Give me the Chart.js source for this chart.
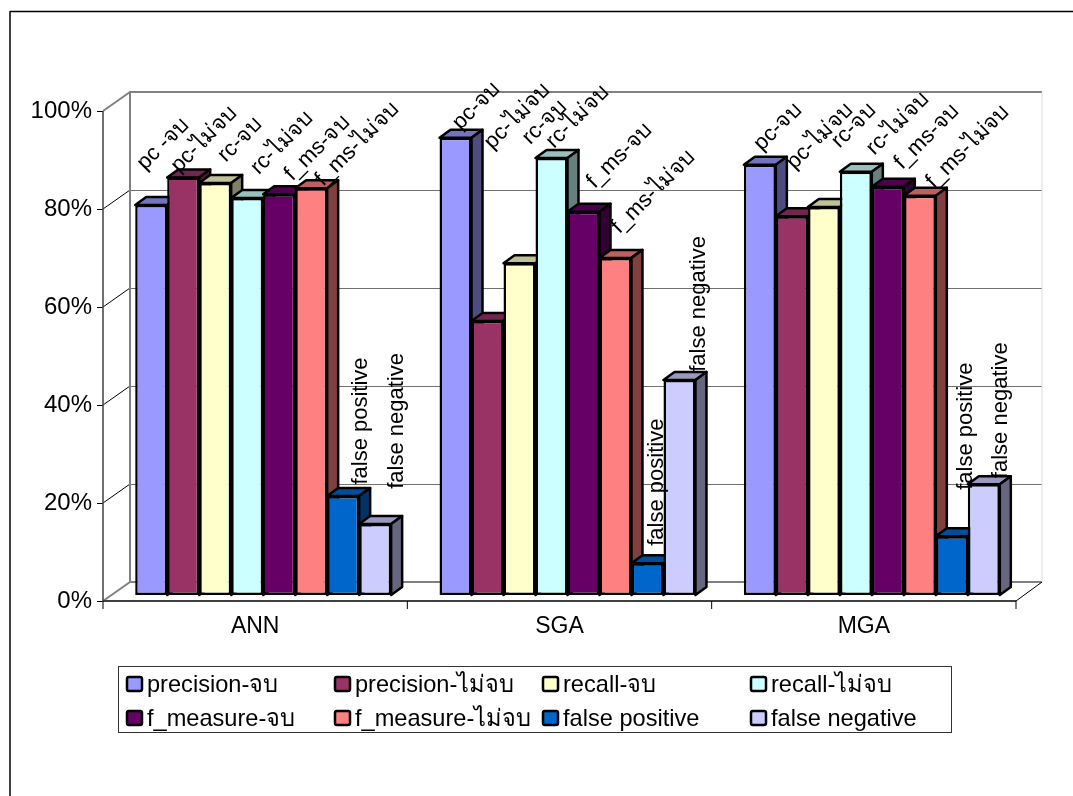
<!DOCTYPE html>
<html>
<head>
<meta charset="utf-8">
<title>ANN SGA MGA</title>
<script src="https://cdn.jsdelivr.net/npm/chart.js@4"></script>
<style>
    html, body { margin: 0; padding: 0; background: #fff; }
    canvas { display: block; }
</style>
</head>
<body>
<canvas id="chart" width="1073" height="796"></canvas>
<script>
const categories = ['ANN', 'SGA', 'MGA'];
const seriesNames = ['precision-จบ', 'precision-ไม่จบ', 'recall-จบ', 'recall-ไม่จบ', 'f_measure-จบ', 'f_measure-ไม่จบ', 'false positive', 'false negative'];

const precisionDone = [79.6, 93.3, 87.8];
const precisionNotDone = [85.2, 55.9, 77.3];
const recallDone = [84.1, 67.7, 79.2];
const recallNotDone = [81, 89.2, 86.4];
const fMeasureDone = [81.8, 78.2, 83.3];
const fMeasureNotDone = [83, 68.8, 81.5];
const falsePositive = [20.2, 6.5, 12];
const falseNegative = [14.5, 43.9, 22.6];

const seriesValues = [precisionDone, precisionNotDone, recallDone, recallNotDone, fMeasureDone, fMeasureNotDone, falsePositive, falseNegative];

// bar labels, one row per category
const annLabels = ['pc -จบ', 'pc-ไม่จบ', 'rc-จบ', 'rc-ไม่จบ', 'f_ms-จบ', 'f_ms-ไม่จบ', 'false positive', 'false negative'];
const sgaLabels = ['pc-จบ', 'pc-ไม่จบ', 'rc-จบ', 'rc-ไม่จบ', 'f_ms-จบ', 'f_ms-ไม่จบ', 'false positive', 'false negative'];
const mgaLabels = ['pc-จบ', 'pc-ไม่จบ', 'rc-จบ', 'rc-ไม่จบ', 'f_ms-จบ', 'f_ms-ไม่จบ', 'false positive', 'false negative'];
const barLabels = [annLabels, sgaLabels, mgaLabels];

// the labels were dragged by hand in the original, so each one has its own nudge from the bar top
const labelDx = [
    [12, 21, 25, 35, 38, 46, 18, 22],
    [21, 30, 25, 26, 36, 38, 9, 19],
    [18, 28, 30, 42, 39, 48, 14, 17],
];
const labelDy = [
    [-61, -38, -43, -55, -46, -44, -75, -103],
    [-32, -205, -141, -41, -56, -66, -81, -76],
    [-38, -80, -81, -48, -50, -49, -110, -74],
];

const frontColors = ['#9999FF', '#993366', '#FFFFCC', '#CCFFFF', '#660066', '#FF8080', '#0066CC', '#CCCCFF'];
const topColors = ['#7373BF', '#73264D', '#BFBF99', '#99BFBF', '#4D004D', '#BF6060', '#004D99', '#9999BF'];
const sideColors = ['#4D4D80', '#4D1A33', '#808066', '#668080', '#330033', '#804040', '#003366', '#666680'];

const FONT = '"Liberation Sans", Arial, sans-serif';
const DEPTH_X = 11;
const DEPTH_Y = 8;

function polygon(ctx, points, fill) {
    ctx.beginPath();
    points.forEach((p, i) => (i ? ctx.lineTo(p[0], p[1]) : ctx.moveTo(p[0], p[1])));
    ctx.closePath();
    ctx.fillStyle = fill;
    ctx.fill();
    ctx.lineWidth = 2.5;
    ctx.strokeStyle = '#000';
    ctx.lineJoin = 'round';
    ctx.stroke();
}

function line(ctx, x1, y1, x2, y2, color, width) {
    ctx.beginPath();
    ctx.moveTo(x1, y1);
    ctx.lineTo(x2, y2);
    ctx.strokeStyle = color;
    ctx.lineWidth = width;
    ctx.stroke();
}

const wallsPlugin = {
    id: 'walls',
    beforeDatasetsDraw(chart) {
        const { ctx, chartArea: area, scales } = chart;
        const y = scales.y;
        const left = area.left - 8;
        const right = area.right - 8;
        const backLeft = left + 27;
        const backRight = right + 26;

        ctx.save();
        // page frame
        line(ctx, 10, 11.5, 1073, 11.5, '#000', 1.5);
        line(ctx, 10, 11, 10, 796, '#000', 1.5);

        // grid on back wall and its run down the side wall
        y.ticks.forEach(t => {
            const py = Math.round(y.getPixelForValue(t.value));
            if (t.value > 0 && t.value < 100) {
                line(ctx, backLeft, py - 12.5, backRight, py - 12.5, '#707070', 1);
                line(ctx, left, py + 6, backLeft, py - 13, '#000', 1);
            }
            line(ctx, left - 6, py + 6.5, left, py + 6.5, '#000', 1);
        });
        const top = y.getPixelForValue(100);
        const bottom = y.getPixelForValue(0);
        line(ctx, backLeft, top - 13, backRight, top - 13, '#808080', 2);
        line(ctx, backLeft, top - 14, backLeft, bottom - 13, '#808080', 2);
        line(ctx, backLeft, bottom - 13, backRight, bottom - 13, '#808080', 2);
        line(ctx, backRight, top - 13, backRight, bottom - 13, '#DDDDDD', 1);
        line(ctx, left, top + 6, backLeft, top - 13, '#808080', 2);
        line(ctx, left, bottom + 6, backLeft, bottom - 13, '#808080', 2);
        line(ctx, right, bottom + 6, backRight, bottom - 13, '#000', 1);

        // front axes
        line(ctx, left, top + 6, left, bottom + 7, '#404040', 1.5);
        line(ctx, left, bottom + 6, right, bottom + 6, '#404040', 2);
        for (let i = 0; i <= categories.length; i++) {
            const px = left + (right - left) * i / categories.length;
            line(ctx, px, bottom + 6, px, bottom + 14, '#000', 1);
        }

        // bars left to right so every bar covers the side of the one before
        chart.data.datasets.forEach((ds, i) => {
            const meta = chart.getDatasetMeta(i);
            meta.data.forEach(bar => {
                const l = bar.x - bar.width / 2;
                const r = bar.x + bar.width / 2;
                polygon(ctx, [[l, bar.y], [l + DEPTH_X, bar.y - DEPTH_Y], [r + DEPTH_X, bar.y - DEPTH_Y], [r, bar.y]], topColors[i]);
                polygon(ctx, [[r, bar.y], [r + DEPTH_X, bar.y - DEPTH_Y], [r + DEPTH_X, bar.base - DEPTH_Y], [r, bar.base]], sideColors[i]);
            });
            meta.controller.draw();
        });
        ctx.restore();
        return false;
    },
};

const labelsPlugin = {
    id: 'barLabels',
    afterDraw(chart) {
        const { ctx } = chart;
        ctx.save();
        ctx.fillStyle = '#000';
        ctx.font = '22px ' + FONT;
        ctx.textAlign = 'center';
        ctx.textBaseline = 'middle';
        chart.data.datasets.forEach((ds, i) => {
            chart.getDatasetMeta(i).data.forEach((bar, g) => {
                ctx.save();
                ctx.translate(bar.x + labelDx[g][i], bar.y + labelDy[g][i]);
                ctx.rotate(i > 5 ? -Math.PI / 2 : -Math.PI / 4);
                ctx.fillText(barLabels[g][i], 0, 0);
                ctx.restore();
            });
        });
        ctx.restore();
    },
};

// the legend is a 4 x 2 grid with fixed columns, the built-in one can't do that
const legendPlugin = {
    id: 'gridLegend',
    afterDraw(chart) {
        const { ctx } = chart;
        ctx.save();
        ctx.strokeStyle = '#333';
        ctx.lineWidth = 1;
        ctx.strokeRect(118.5, 666.5, 833, 66);
        ctx.font = '23.6px ' + FONT;
        ctx.textBaseline = 'middle';
        ctx.textAlign = 'left';
        chart.data.datasets.forEach((ds, i) => {
            const col = i % 4;
            const row = Math.floor(i / 4);
            const bx = 127 + col * 208;
            const by = 684 + row * 34;
            ctx.fillStyle = ds.backgroundColor;
            ctx.strokeStyle = '#000';
            ctx.lineWidth = 2.5;
            ctx.beginPath();
            ctx.roundRect(bx, by - 7, 15, 14, 2);
            ctx.fill();
            ctx.stroke();
            ctx.fillStyle = '#000';
            ctx.fillText(ds.label, bx + 20, by + 1);
        });
        ctx.restore();
    },
};

const datasets = seriesNames.map((name, i) => ({
    label: name,
    data: seriesValues[i],
    backgroundColor: frontColors[i],
    borderColor: '#000',
    borderWidth: 2.5,
    borderSkipped: false,
    categoryPercentage: 0.841,
    barPercentage: 1,
}));

new Chart(document.getElementById('chart').getContext('2d'), {
    type: 'bar',
    data: { labels: categories, datasets },
    options: {
        responsive: false,
        animation: false,
        layout: { padding: { top: 105, right: 49, left: 0, bottom: 0 } },
        plugins: { legend: { display: false }, tooltip: { enabled: false } },
        scales: {
            x: {
                grid: { display: false, drawTicks: false },
                border: { display: false },
                afterFit: scale => { scale.height = 201; },
                ticks: { color: '#000', font: { family: FONT, size: 23 }, padding: 18, labelOffset: -8, maxRotation: 0, autoSkip: false },
            },
            y: {
                min: 0,
                max: 100,
                grid: { display: false, drawTicks: false },
                border: { display: false },
                afterFit: scale => { scale.width = 111; },
                ticks: { color: '#000', stepSize: 20, font: { family: FONT, size: 24 }, padding: 19, labelOffset: 6, callback: v => v + '%' },
            },
        },
    },
    plugins: [wallsPlugin, labelsPlugin, legendPlugin],
});
</script>
</body>
</html>
